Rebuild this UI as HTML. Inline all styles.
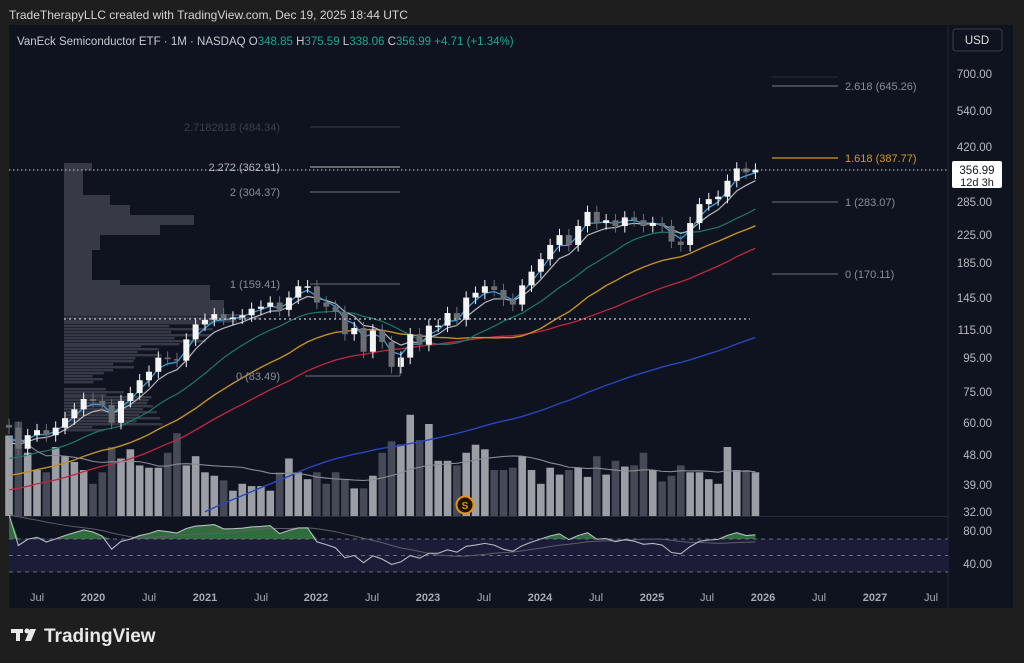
<!DOCTYPE html>
<html><head><meta charset="utf-8"><style>
html,body{margin:0;padding:0;background:#1e1e1e;width:1024px;height:663px;overflow:hidden;font-family:"Liberation Sans",sans-serif}
svg{display:block}
</style></head><body>
<svg id="s" width="1024" height="663" xmlns="http://www.w3.org/2000/svg" font-family="Liberation Sans, sans-serif">
<rect x="0" y="0" width="1024" height="663" fill="#1e1e1e"/>
<rect x="9" y="25" width="1004" height="583" fill="#0f1320"/>
<line x1="948" y1="25" x2="948" y2="608" stroke="#232733"/>
<line x1="9" y1="516.5" x2="948" y2="516.5" stroke="#2a2e3a"/>
<rect x="9" y="539" width="939" height="33" fill="#1c1b38"/>
<g id="vp" fill="#3c3f4b" opacity="0.9"></g>
<g id="vol"></g>
<g id="lines" fill="none"></g>
<g id="rsi"></g>
<g id="cand"></g>
<g font-size="11" fill="#8a8d96" text-anchor="end">
<line x1="310" y1="127" x2="400" y2="127" stroke="#3a3d48"/><text x="280" y="131" fill="#3c3f4a">2.7182818 (484.34)</text>
<line x1="310" y1="167" x2="400" y2="167" stroke="#bbbcc2"/><text x="280" y="171" fill="#b0b2b8">2.272 (362.91)</text>
<line x1="310" y1="192" x2="400" y2="192" stroke="#6e717c"/><text x="280" y="196">2 (304.37)</text>
<line x1="310" y1="284" x2="400" y2="284" stroke="#6e717c"/><text x="280" y="288">1 (159.41)</text>
<line x1="305" y1="376" x2="400" y2="376" stroke="#6e717c"/><line x1="400" y1="376" x2="400" y2="358" stroke="#6e717c"/><text x="280" y="380">0 (83.49)</text>
</g>
<g font-size="11" fill="#8a8d96">
<line x1="772" y1="77" x2="838" y2="77" stroke="#2a2d38"/>
<line x1="772" y1="86" x2="838" y2="86" stroke="#7a7d88"/><text x="845" y="90">2.618 (645.26)</text>
<line x1="772" y1="158" x2="838" y2="158" stroke="#d09a25" stroke-width="1.3"/><text x="845" y="162" fill="#d09a25">1.618 (387.77)</text>
<line x1="772" y1="202" x2="838" y2="202" stroke="#6e717c"/><text x="845" y="206">1 (283.07)</text>
<line x1="772" y1="274" x2="838" y2="274" stroke="#6e717c"/><text x="845" y="278">0 (170.11)</text>
</g>
<line x1="9" y1="170" x2="948" y2="170" stroke="#c9cad0" stroke-dasharray="1.5,2.5"/>
<line x1="64" y1="319" x2="750" y2="319" stroke="#c9cad0" stroke-dasharray="2,3" stroke-width="1.3"/>
<text x="9" y="19" font-size="12" fill="#d4d4d4">TradeTherapyLLC created with TradingView.com, Dec 19, 2025 18:44 UTC</text>
<text x="17" y="45" font-size="11.5" fill="#c8cad0">VanEck Semiconductor ETF · 1M · NASDAQ  <tspan>O</tspan><tspan fill="#22a58e">348.85</tspan>  H<tspan fill="#22a58e">375.59</tspan>  L<tspan fill="#22a58e">338.06</tspan>  C<tspan fill="#22a58e">356.99</tspan>  <tspan fill="#22a58e">+4.71 (+1.34%)</tspan></text>
<rect x="953" y="29" width="49" height="22" rx="3" fill="#0f1320" stroke="#3a3d48"/>
<text x="977" y="44" font-size="11.5" fill="#e0e0e0" text-anchor="middle">USD</text>
<g font-size="11.5" fill="#b8bac0" text-anchor="end">
<text x="992" y="78">700.00</text><text x="992" y="115">540.00</text><text x="992" y="151">420.00</text>
<text x="992" y="206">285.00</text><text x="992" y="239">225.00</text><text x="992" y="267">185.00</text>
<text x="992" y="302">145.00</text><text x="992" y="334">115.00</text><text x="992" y="362">95.00</text>
<text x="992" y="396">75.00</text><text x="992" y="427">60.00</text><text x="992" y="459">48.00</text>
<text x="992" y="489">39.00</text><text x="992" y="516">32.00</text>
<text x="992" y="535">80.00</text><text x="992" y="568">40.00</text>
</g>
<rect x="952" y="161" width="50" height="27" rx="2" fill="#ffffff"/>
<text x="977" y="174" font-size="11.5" fill="#131722" text-anchor="middle">356.99</text>
<text x="977" y="186" font-size="11" fill="#131722" text-anchor="middle">12d 3h</text>
<g font-size="11" fill="#a8aab0" text-anchor="middle">
<text x="37" y="601">Jul</text><text x="93" y="601" font-weight="bold">2020</text><text x="149" y="601">Jul</text>
<text x="205" y="601" font-weight="bold">2021</text><text x="261" y="601">Jul</text><text x="316" y="601" font-weight="bold">2022</text>
<text x="372" y="601">Jul</text><text x="428" y="601" font-weight="bold">2023</text><text x="484" y="601">Jul</text>
<text x="540" y="601" font-weight="bold">2024</text><text x="596" y="601">Jul</text><text x="652" y="601" font-weight="bold">2025</text>
<text x="707" y="601">Jul</text><text x="763" y="601" font-weight="bold">2026</text><text x="819" y="601">Jul</text>
<text x="875" y="601" font-weight="bold">2027</text><text x="931" y="601">Jul</text>
</g>
<circle cx="465" cy="505" r="8.5" fill="#1a1408" stroke="#e8900c" stroke-width="2"/>
<text x="465" y="509" font-size="10" font-weight="bold" fill="#e8900c" text-anchor="middle">S</text>
<g fill="#e8e8e8"><rect x="11" y="629" width="12" height="4"/><rect x="16" y="629" width="4" height="12"/><circle cx="27" cy="631" r="2.5"/><polygon points="30,629 36,629 31,641 25,641"/></g>
<text x="44" y="642" font-size="19" fill="#e8e8e8" font-weight="bold">TradingView</text>
</svg>
<script>
var NS="http://www.w3.org/2000/svg";
function el(p,t,a){var e=document.createElementNS(NS,t);for(var k in a)e.setAttribute(k,a[k]);document.getElementById(p).appendChild(e);return e;}
function Y(p){return 74+(Math.log(700)-Math.log(p))*142;}
var C=[58,50,55,57,55,58,62,66,71, 70,68,60,70,74,81,86,95,94,93,108,120, 124,129,125,126,128,134,136,140,133,145,157,157,
140,136,131,112,117,99,115,106,89,95,112,104, 119,119,130,124,145,150,157,153,143,138,158,174,
190,210,225,210,240,265,245,250,240,255,250,240, 245,240,215,210,245,280,290,295,330,360,350,357];
var n=C.length; function X(i){return 93+(i-9)*9.33;}
var P=[];for(var k=0;k<60;k++)P.push(16+k*0.6);var A=P.concat(C);var off=60;
function sma(i,len){var s=0;for(var j=i-len+1;j<=i;j++)s+=A[j];return s/len;}
function ema(len){var out=[],a=2/(len+1),v=A[0];for(var i=0;i<A.length;i++){v=a*A[i]+(1-a)*v;out.push(v);}return out;}
function line(vals,col,w,clipBottom){var d="";for(var i=0;i<n;i++){var y=Y(vals(i));if(clipBottom&&y>516)continue;d+=(d?"L":"M")+X(i).toFixed(1)+","+y.toFixed(1);}el("lines","path",{d:d,stroke:col,"stroke-width":w});}
var e3=ema(3),e6=ema(6);
line(function(i){return sma(i+off,60)*0.6},"#2a45c0",1.4,true);
line(function(i){return sma(i+off,30)*0.86},"#c0283c",1.3,true);
line(function(i){return sma(i+off,20)*0.89},"#c29025",1.4,true);
line(function(i){return sma(i+off,12)*0.95},"#1d7a68",1.2,true);
line(function(i){return e6[i+off]},"#b5b7be",1.2,true);
line(function(i){return e3[i+off]},"#3aa0dc",1.3,true);
var V=[70,82,55,40,38,60,52,47,40,28,38,60,50,58,44,42,42,55,72,44,52,38,35,31,22,28,26,26,22,38,50,38,32,38,28,38,32,24,24,35,55,65,62,88,66,80,48,48,44,55,62,58,40,40,42,52,40,28,42,36,40,42,34,52,36,48,43,44,55,40,30,35,44,38,38,32,28,60,40,40,38,44,42,24];
for(var i=0;i<n;i++){var v=(V[i]||40)*1.15;var up=i==0||C[i]>=C[i-1];el("vol","rect",{x:X(i)-3.8,y:516-v,width:7.6,height:v,fill:up?"#9c9ea6":"#464a56"});}
var d="";for(var i=0;i<n;i++){var s=0,c=0;for(var j=Math.max(0,i-14);j<=i;j++){s+=V[j];c++;}var y=516-s/c*0.95-6;d+=(i?"L":"M")+X(i)+","+y;}
el("lines","path",{d:d,stroke:"#8a8c94","stroke-width":1.1});
for(var i=0;i<n;i++){var o=i?C[i-1]:C[0]*1.02,c=C[i];var up=c>=o;var hi=Math.max(o,c)*1.045,lo=Math.min(o,c)*0.955;
var col=up?"#f4f4f4":"#6c6e74";el("cand","line",{x1:X(i),x2:X(i),y1:Y(hi),y2:Y(lo),stroke:col});
var t=Y(Math.max(o,c)),b=Y(Math.min(o,c));el("cand","rect",{x:X(i)-3,y:t,width:6,height:Math.max(1.5,b-t),fill:col});}
var rs=[],ag=0,al=0;for(var i=1;i<A.length;i++){var ch=A[i]-A[i-1];var g=Math.max(ch,0),l=Math.max(-ch,0);ag=(ag*13+g)/14;al=(al*13+l)/14;rs.push(100-100/(1+ag/(al||1e-6)));}
function RY(v){return 564-(v-40)*0.825;}
var pts=[];for(var i=0;i<n;i++){pts.push([X(i),RY(rs[i+off-1])]);}
var dd="";pts.forEach(function(p,i){dd+=(i?"L":"M")+p[0]+","+p[1];});
var f="M"+pts[0][0]+",539";pts.forEach(function(p){f+="L"+p[0]+","+Math.min(p[1],539);});f+="L"+pts[n-1][0]+",539Z";
el("rsi","path",{d:f,fill:"#2f6e3c"});
["539","555.5","572"].forEach(function(y){el("rsi","line",{x1:9,x2:948,y1:y,y2:y,stroke:"#6a6c78","stroke-dasharray":"4,4"});});
var ma="";for(var i=0;i<n;i++){var s=0;for(var j=i-13;j<=i;j++)s+=rs[j+off-1];ma+=(i?"L":"M")+X(i)+","+RY(s/14);}
el("rsi","path",{d:ma,fill:"none",stroke:"#5c5e68","stroke-width":1});
el("rsi","path",{d:dd,fill:"none",stroke:"#b8bac2","stroke-width":1.1});
var vp=[[163,7,28],[170,25,19],[195,10,46],[205,10,66],[215,10,130],[225,10,96],[235,15,36],[250,30,28],[280,5,56],[285,15,146],[300,14,160],[314,8,220],[322,23,150],[345,15,100],[360,12,70],[372,12,40],[388,8,60],[396,30,100],[426,6,40]];
vp.forEach(function(r){if(r[0]<314){el("vp","rect",{x:64,y:r[0],width:r[2],height:r[1]});}else{for(var y=r[0];y<r[0]+r[1];y+=3){el("vp","rect",{x:64,y:y,width:r[2]*(0.85+0.15*Math.sin(y)),height:2.4});}}});
</script>
</body></html>
